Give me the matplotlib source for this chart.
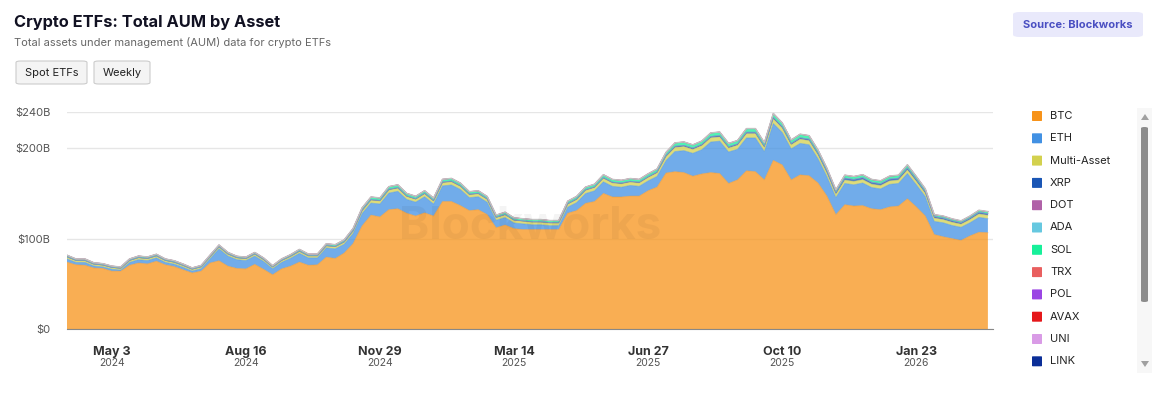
import matplotlib
matplotlib.use("Agg")
import matplotlib.pyplot as plt
import matplotlib.dates as mdates
from matplotlib.patches import FancyBboxPatch, Rectangle, Polygon
import pandas as pd

plt.rcParams['font.family'] = ['Inter', 'DejaVu Sans']

# weekly points, Fri 2024-03-29 .. Fri 2026-03-20 (values in $B)
dates = pd.date_range('2024-03-29', periods=104, freq='W-FRI')

btc = [74, 71, 70.5, 67.5, 67, 64, 64, 70.5, 73, 72,
       75, 71, 69, 65.5, 62, 64, 73, 75.5, 69.5, 67,
       66.5, 71.5, 66, 60, 66.5, 69.5, 74, 70.5, 71, 79.5,
       78, 84, 94.5, 114, 126, 124, 132, 133, 128, 125,
       128.5, 125, 141, 141, 136.5, 131, 132, 126.5, 112, 115,
       111, 110, 110, 110, 110, 110, 128, 131, 139, 141,
       150, 146, 146, 147, 147, 153, 157, 172.5, 174, 173,
       169, 171.5, 173, 172, 161, 165, 175, 174, 165, 186.5,
       181.5, 165, 170.5, 169.5, 161.5, 147, 126.5, 137.5, 136, 136.5,
       133, 132, 135, 136, 144, 135, 125, 104.5, 102, 100,
       98, 103, 107, 106.5]
eth = [3.6, 2.7, 3.2, 2.2, 1.7, 2.2, 1.2, 3.2, 3.7, 3.7,
       3.7, 2.7, 2.7, 2.7, 2.2, 2.7, 4.7, 13.2, 11.2, 9.7,
       9.2, 9.2, 8.7, 6.7, 7.2, 8.7, 9.7, 8.2, 7.7, 10.2,
       10.7, 9.7, 11.2, 13.7, 13.3, 14.3, 18.3, 19.3, 15.3, 15.3,
       17.8, 13.3, 17.3, 18.3, 17.8, 14.3, 14.3, 13.7, 8.3, 8.3,
       6.3, 6.3, 5.3, 5.3, 4.3, 4.3, 6.8, 8.8, 10.8, 11.8,
       12.8, 11.8, 10.8, 11.8, 10.8, 10.8, 11.8, 13.8, 22.3, 24.3,
       25.3, 26.8, 33.8, 35.8, 34.8, 33.8, 36.3, 37.3, 31.3, 40.8,
       35.8, 34.3, 34.8, 34.3, 26.8, 21.5, 19, 23.5, 23.5, 25,
       23.5, 23, 25, 25, 28, 24.5, 21.5, 14.5, 15.5, 14.5,
       14.5, 14.5, 16.5, 15.5]
multi = [2.0, 1.9, 1.9, 1.8, 1.8, 1.7, 1.7, 1.9, 2.0, 2.0,
         2.0, 1.9, 1.9, 1.8, 1.7, 1.8, 2.0, 2.1, 2.0, 1.9,
         1.9, 2.0, 1.9, 1.7, 1.9, 2.0, 2.1, 2.0, 2.0, 2.2,
         2.2, 2.3, 2.6, 2.9, 3.1, 3.1, 3.3, 3.3, 3.1, 3.0,
         3.1, 3.0, 3.4, 3.4, 3.3, 3.1, 3.1, 3.0, 2.7, 2.8,
         2.7, 2.7, 2.7, 2.7, 2.7, 2.7, 3.1, 3.2, 3.4, 3.5,
         3.7, 3.6, 3.6, 3.6, 3.6, 3.7, 3.8, 4.2, 4.4, 4.4,
         4.3, 4.4, 4.6, 4.6, 4.3, 4.4, 4.7, 4.7, 4.4, 5.0,
         4.8, 4.4, 4.6, 4.5, 4.3, 3.9, 3.4, 3.7, 3.7, 3.7,
         3.6, 3.6, 3.7, 3.7, 3.9, 3.7, 3.4, 3.6, 3.5, 3.5,
         3.4, 3.5, 3.7, 3.7]
xrp = [0.3, 0.3, 0.3, 0.3, 0.3, 0.3, 0.3, 0.3, 0.3, 0.3,
       0.3, 0.3, 0.3, 0.3, 0.3, 0.3, 0.3, 0.3, 0.3, 0.3,
       0.3, 0.3, 0.3, 0.3, 0.3, 0.3, 0.3, 0.3, 0.3, 0.3,
       0.3, 0.4, 0.5, 0.6, 0.7, 0.7, 0.8, 0.8, 0.7, 0.7,
       0.7, 0.7, 0.8, 0.8, 0.8, 0.7, 0.7, 0.7, 0.6, 0.6,
       0.6, 0.6, 0.6, 0.6, 0.6, 0.6, 0.7, 0.8, 0.8, 0.8,
       0.9, 0.9, 0.9, 0.9, 0.9, 0.9, 1.0, 1.2, 1.3, 1.3,
       1.3, 1.3, 1.4, 1.4, 1.3, 1.4, 1.5, 1.5, 1.4, 1.6,
       1.5, 1.4, 1.5, 1.5, 1.6, 1.9, 1.9, 2.1, 2.1, 2.1,
       2.0, 2.0, 2.0, 2.0, 2.1, 2.0, 1.9, 1.6, 1.6, 1.6,
       1.5, 1.6, 1.7, 1.7]
sol = [1.6, 1.5, 1.5, 1.4, 1.4, 1.3, 1.3, 1.5, 1.6, 1.6,
       1.6, 1.5, 1.5, 1.4, 1.3, 1.4, 1.6, 1.7, 1.6, 1.5,
       1.5, 1.6, 1.5, 1.3, 1.5, 1.6, 1.7, 1.6, 1.6, 1.8,
       1.8, 1.9, 2.1, 2.4, 2.6, 2.6, 2.8, 2.8, 2.6, 2.5,
       2.6, 2.5, 2.8, 2.8, 2.7, 2.5, 2.5, 2.4, 2.1, 2.2,
       2.1, 2.1, 2.1, 2.1, 2.0, 2.0, 2.4, 2.5, 2.6, 2.7,
       2.9, 2.8, 2.8, 2.8, 2.8, 2.9, 3.0, 3.3, 3.5, 3.5,
       3.4, 3.5, 3.7, 3.7, 3.5, 3.5, 3.8, 3.8, 3.5, 4.0,
       3.9, 3.5, 3.6, 3.6, 3.3, 3.0, 2.6, 2.9, 2.9, 2.9,
       2.8, 2.8, 2.9, 2.9, 3.1, 2.9, 2.7, 1.8, 1.8, 1.7,
       1.7, 1.8, 1.9, 1.9]
# the remaining assets are too thin to read; roughly flat estimates
dot = [0.1, 0.1, 0.1, 0.1, 0.1, 0.1, 0.1, 0.1, 0.1, 0.1, 0.1, 0.1, 0.1,
       0.1, 0.1, 0.1, 0.1, 0.1, 0.1, 0.1, 0.1, 0.1, 0.1, 0.1, 0.1, 0.1,
       0.1, 0.1, 0.1, 0.1, 0.1, 0.1, 0.1, 0.1, 0.1, 0.1, 0.1, 0.1, 0.1,
       0.1, 0.1, 0.1, 0.1, 0.1, 0.1, 0.1, 0.1, 0.1, 0.1, 0.1, 0.1, 0.1,
       0.1, 0.1, 0.1, 0.1, 0.1, 0.1, 0.1, 0.1, 0.1, 0.1, 0.1, 0.1, 0.1,
       0.1, 0.1, 0.1, 0.1, 0.1, 0.1, 0.1, 0.1, 0.1, 0.1, 0.1, 0.1, 0.1,
       0.1, 0.1, 0.1, 0.1, 0.1, 0.1, 0.1, 0.1, 0.1, 0.1, 0.1, 0.1, 0.1,
       0.1, 0.1, 0.1, 0.1, 0.1, 0.1, 0.1, 0.1, 0.1, 0.1, 0.1, 0.1, 0.1]
ada = [0.0, 0.0, 0.0, 0.0, 0.0, 0.0, 0.0, 0.0, 0.0, 0.0, 0.0, 0.0, 0.0,
       0.0, 0.0, 0.0, 0.0, 0.0, 0.0, 0.0, 0.0, 0.0, 0.0, 0.0, 0.0, 0.0,
       0.1, 0.1, 0.1, 0.1, 0.1, 0.1, 0.1, 0.1, 0.1, 0.1, 0.1, 0.1, 0.1,
       0.1, 0.1, 0.1, 0.1, 0.1, 0.1, 0.1, 0.1, 0.1, 0.1, 0.1, 0.1, 0.1,
       0.1, 0.1, 0.1, 0.1, 0.1, 0.1, 0.1, 0.1, 0.1, 0.1, 0.1, 0.1, 0.1,
       0.1, 0.1, 0.1, 0.1, 0.1, 0.1, 0.1, 0.1, 0.1, 0.1, 0.1, 0.1, 0.1,
       0.1, 0.1, 0.1, 0.1, 0.1, 0.1, 0.1, 0.1, 0.1, 0.1, 0.1, 0.1, 0.1,
       0.1, 0.1, 0.1, 0.1, 0.1, 0.1, 0.1, 0.1, 0.1, 0.1, 0.1, 0.1, 0.1]
trx = [0.0, 0.0, 0.0, 0.0, 0.0, 0.0, 0.0, 0.0, 0.0, 0.0, 0.0, 0.0, 0.0,
       0.0, 0.0, 0.0, 0.0, 0.0, 0.0, 0.0, 0.0, 0.0, 0.0, 0.0, 0.0, 0.0,
       0.0, 0.0, 0.0, 0.0, 0.0, 0.0, 0.0, 0.0, 0.0, 0.0, 0.0, 0.0, 0.0,
       0.0, 0.0, 0.0, 0.0, 0.0, 0.0, 0.0, 0.0, 0.0, 0.0, 0.0, 0.0, 0.0,
       0.1, 0.1, 0.1, 0.1, 0.1, 0.1, 0.1, 0.1, 0.1, 0.1, 0.1, 0.1, 0.1,
       0.1, 0.1, 0.1, 0.1, 0.1, 0.1, 0.1, 0.1, 0.1, 0.1, 0.1, 0.1, 0.1,
       0.1, 0.1, 0.1, 0.1, 0.1, 0.1, 0.1, 0.1, 0.1, 0.1, 0.1, 0.1, 0.1,
       0.1, 0.1, 0.1, 0.1, 0.1, 0.1, 0.1, 0.1, 0.1, 0.1, 0.1, 0.1, 0.1]
pol = [0.0, 0.0, 0.0, 0.0, 0.0, 0.0, 0.0, 0.0, 0.0, 0.0, 0.0, 0.0, 0.0,
       0.0, 0.0, 0.0, 0.0, 0.0, 0.0, 0.0, 0.0, 0.0, 0.0, 0.0, 0.0, 0.0,
       0.0, 0.0, 0.0, 0.0, 0.0, 0.0, 0.0, 0.0, 0.0, 0.0, 0.0, 0.0, 0.0,
       0.0, 0.0, 0.0, 0.0, 0.0, 0.0, 0.0, 0.0, 0.0, 0.0, 0.0, 0.0, 0.0,
       0.0, 0.0, 0.0, 0.0, 0.0, 0.0, 0.0, 0.0, 0.0, 0.0, 0.0, 0.0, 0.0,
       0.0, 0.0, 0.0, 0.0, 0.0, 0.0, 0.0, 0.0, 0.0, 0.0, 0.0, 0.0, 0.0,
       0.1, 0.1, 0.1, 0.1, 0.1, 0.1, 0.1, 0.1, 0.1, 0.1, 0.1, 0.1, 0.1,
       0.1, 0.1, 0.1, 0.1, 0.1, 0.1, 0.1, 0.1, 0.1, 0.1, 0.1, 0.1, 0.1]
avax = [0.0, 0.0, 0.0, 0.0, 0.0, 0.0, 0.0, 0.0, 0.0, 0.0, 0.0, 0.0, 0.0,
        0.0, 0.0, 0.0, 0.0, 0.0, 0.0, 0.0, 0.0, 0.0, 0.0, 0.0, 0.0, 0.0,
        0.1, 0.1, 0.1, 0.1, 0.1, 0.1, 0.1, 0.1, 0.1, 0.1, 0.1, 0.1, 0.1,
        0.1, 0.1, 0.1, 0.1, 0.1, 0.1, 0.1, 0.1, 0.1, 0.1, 0.1, 0.1, 0.1,
        0.1, 0.1, 0.1, 0.1, 0.1, 0.1, 0.1, 0.1, 0.1, 0.1, 0.1, 0.1, 0.1,
        0.1, 0.1, 0.1, 0.1, 0.1, 0.1, 0.1, 0.1, 0.1, 0.1, 0.1, 0.1, 0.1,
        0.1, 0.1, 0.1, 0.1, 0.1, 0.1, 0.1, 0.1, 0.1, 0.1, 0.1, 0.1, 0.1,
        0.1, 0.1, 0.1, 0.1, 0.1, 0.1, 0.1, 0.1, 0.1, 0.1, 0.1, 0.1, 0.1]
uni = [0.0, 0.0, 0.0, 0.0, 0.0, 0.0, 0.0, 0.0, 0.0, 0.0, 0.0, 0.0, 0.0,
       0.0, 0.0, 0.0, 0.0, 0.0, 0.0, 0.0, 0.0, 0.0, 0.0, 0.0, 0.0, 0.0,
       0.0, 0.0, 0.0, 0.0, 0.0, 0.0, 0.0, 0.0, 0.0, 0.0, 0.0, 0.0, 0.0,
       0.0, 0.0, 0.0, 0.0, 0.0, 0.0, 0.0, 0.0, 0.0, 0.0, 0.0, 0.0, 0.0,
       0.0, 0.0, 0.0, 0.0, 0.0, 0.0, 0.0, 0.0, 0.0, 0.0, 0.0, 0.0, 0.0,
       0.0, 0.0, 0.0, 0.0, 0.0, 0.0, 0.0, 0.0, 0.0, 0.0, 0.0, 0.0, 0.0,
       0.0, 0.0, 0.0, 0.0, 0.0, 0.0, 0.0, 0.0, 0.0, 0.0, 0.0, 0.0, 0.0,
       0.0, 0.0, 0.0, 0.0, 0.0, 0.0, 0.0, 0.0, 0.0, 0.0, 0.0, 0.0, 0.0]
link = [0.0, 0.0, 0.0, 0.0, 0.0, 0.0, 0.0, 0.0, 0.0, 0.0, 0.0, 0.0, 0.0,
        0.0, 0.0, 0.0, 0.0, 0.0, 0.0, 0.0, 0.0, 0.0, 0.0, 0.0, 0.0, 0.0,
        0.0, 0.0, 0.0, 0.0, 0.0, 0.0, 0.0, 0.0, 0.0, 0.0, 0.0, 0.0, 0.0,
        0.0, 0.0, 0.0, 0.0, 0.0, 0.0, 0.0, 0.0, 0.0, 0.0, 0.0, 0.0, 0.0,
        0.0, 0.0, 0.0, 0.0, 0.0, 0.0, 0.0, 0.0, 0.0, 0.0, 0.0, 0.0, 0.0,
        0.0, 0.0, 0.0, 0.0, 0.0, 0.0, 0.0, 0.0, 0.0, 0.0, 0.0, 0.0, 0.0,
        0.0, 0.0, 0.0, 0.0, 0.0, 0.0, 0.0, 0.0, 0.0, 0.0, 0.0, 0.0, 0.1,
        0.1, 0.1, 0.1, 0.1, 0.1, 0.1, 0.1, 0.1, 0.1, 0.1, 0.1, 0.1, 0.1]

assets = ['BTC', 'ETH', 'Multi-Asset', 'XRP', 'DOT', 'ADA', 'SOL', 'TRX', 'POL', 'AVAX', 'UNI', 'LINK']
colors = ['#F7931A', '#4291E3', '#D3D14E', '#1A56B5', '#B062A8', '#66C8E0', '#17F09A',
          '#E95F5F', '#9B45E4', '#E5181B', '#D99BE6', '#0B2E98']
series = [btc, eth, multi, xrp, dot, ada, sol, trx, pol, avax, uni, link]

tick_dates = ['2024-05-03', '2024-08-16', '2024-11-29', '2025-03-14', '2025-06-27', '2025-10-10', '2026-01-23']
y_ticks = [0, 100, 200, 240]
y_labels = ['$0', '$100B', '$200B', '$240B']

W, H = 1156, 393
fig = plt.figure(figsize=(W / 100, H / 100), dpi=100)


def px(x, y):
    return x / W, 1 - y / H


ax = fig.add_axes([67 / W, 1 - 329 / H, (993 - 67) / W, (329 - 112) / H])
ax.stackplot(dates, series, colors=colors, alpha=0.75, linewidth=0)

# thin boundary lines between the stacked layers
run = [0.0] * len(dates)
for s, c in zip(series, colors):
    run = [a + b for a, b in zip(run, s)]
    if c != colors[-1]:
        ax.plot(dates, run, color=c, lw=0.6, alpha=0.5)
ax.plot(dates, run, color='#c2c2c2', lw=1.0)

ax.set_ylim(0, 240)
ax.set_xlim(dates[0], dates[-1] + pd.Timedelta(days=4))
ax.set_yticks(y_ticks)
ax.set_yticklabels(y_labels, fontsize=8, color='#555555')
ax.grid(axis='y', color='#e6e6e6', lw=1)
ax.set_axisbelow(True)
for sp in ['top', 'right', 'left']:
    ax.spines[sp].set_visible(False)
ax.spines['bottom'].set_color('#888888')
ax.tick_params(axis='both', length=0)
ax.tick_params(axis='y', pad=12)

td = pd.to_datetime(tick_dates)
ax.set_xticks(td)
ax.set_xticklabels([d.strftime('%b ') + str(d.day) for d in td], fontsize=9, fontweight='bold', color='#333333')
ax.tick_params(axis='x', pad=12)
for d in td:
    ax.text(mdates.date2num(d), -0.155, str(d.year), transform=ax.get_xaxis_transform(),
            ha='center', va='center', fontsize=7.5, color='#555555')

# watermark
ax.text(0.5, 0.47, 'Blockworks', transform=ax.transAxes, ha='center', va='center',
        fontsize=33, fontweight='bold', color='#000000', alpha=0.045)

# header
fig.text(*px(14, 22), 'Crypto ETFs: Total AUM by Asset', fontsize=11.8, fontweight='bold',
         color='#111122', va='center')
fig.text(*px(14, 43), 'Total assets under management (AUM) data for crypto ETFs', fontsize=8,
         color='#666666', va='center')

for x0, x1, label in [(16, 87, 'Spot ETFs'), (94, 150, 'Weekly')]:
    fig.patches.append(FancyBboxPatch(px(x0, 84), (x1 - x0) / W, 23 / H,
                                      boxstyle='round,pad=0,rounding_size=0.004',
                                      transform=fig.transFigure, facecolor='#f4f4f4',
                                      edgecolor='#cccccc', lw=0.8))
    fig.text(*px((x0 + x1) / 2, 72.5), label, fontsize=8, color='#222222', ha='center', va='center')

fig.patches.append(FancyBboxPatch(px(1013, 37), 130 / W, 25 / H,
                                  boxstyle='round,pad=0,rounding_size=0.006',
                                  transform=fig.transFigure, facecolor='#E9E9FB', edgecolor='none'))
fig.text(*px(1078, 24.5), 'Source: Blockworks', fontsize=8, fontweight='bold', color='#4A4FC2',
         ha='center', va='center')

# legend (scrolling list in the original)
for k, (name, c) in enumerate(zip(assets, colors)):
    yy = 116 + k * 22.3
    fig.patches.append(FancyBboxPatch(px(1032, yy + 5), 10 / W, 10 / H,
                                      boxstyle='round,pad=0,rounding_size=0.001',
                                      transform=fig.transFigure, facecolor=c, edgecolor='none'))
    fig.text(*px(1050, yy), name, fontsize=8, color='#222222', va='center')

fig.patches.append(Rectangle(px(1137, 373), 15 / W, 265 / H, transform=fig.transFigure,
                             facecolor='#f7f7f7', edgecolor='none'))
fig.patches.append(FancyBboxPatch(px(1141, 302), 7 / W, 175 / H,
                                  boxstyle='round,pad=0,rounding_size=0.003',
                                  transform=fig.transFigure, facecolor='#8c8c8c', edgecolor='none'))
fig.patches.append(Polygon([px(1141, 120), px(1149, 120), px(1145, 114)], closed=True,
                           transform=fig.transFigure, facecolor='#a0a0a0', edgecolor='none'))
fig.patches.append(Polygon([px(1141, 361), px(1149, 361), px(1145, 367)], closed=True,
                           transform=fig.transFigure, facecolor='#a0a0a0', edgecolor='none'))

fig.savefig('out.png', dpi=100)
